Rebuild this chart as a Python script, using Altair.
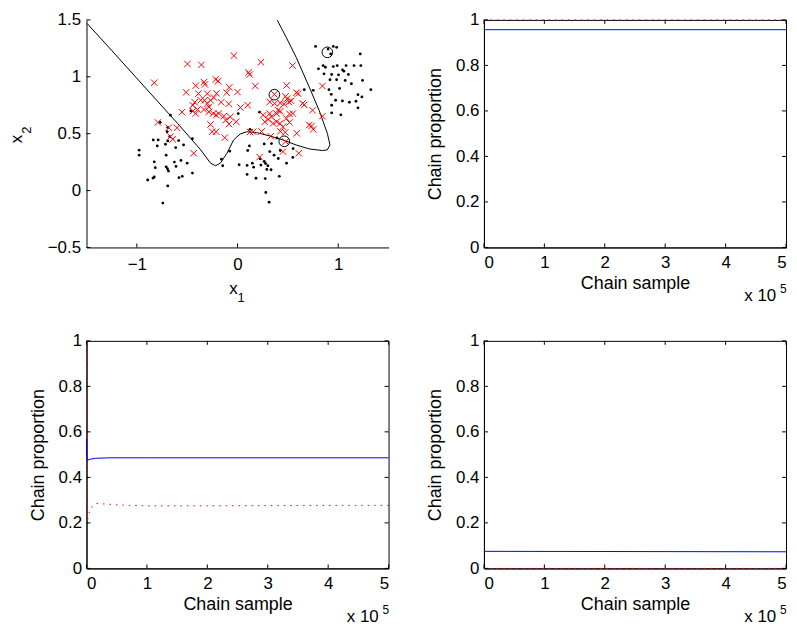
import altair as alt
import pandas as pd

# ---------------- top-left: data space (x1, x2) ----------------
black_x = [-0.667, -0.768, -0.693, -0.699, -0.673, -0.837, -0.788, -0.797, -0.716, -0.693,
           -0.585, -0.536, -0.448, -0.614, -0.977, -0.977, -0.709, -0.827, -0.817, -0.627,
           -0.562, -0.500, -0.709, -0.696, -0.686, -0.611, -0.448, -0.892, -0.840, -0.827,
           -0.582, -0.549, -0.693, -0.742, -0.160, -0.147, -0.464, -0.078,
           0.007, 0.219, 0.124, 0.118, 0.101, 0.147, 0.225, 0.016, 0.095, 0.095,
           0.160, 0.183, 0.265, 0.337, 0.320, 0.265, 0.278, 0.301, 0.291, 0.333,
           0.275, 0.281, 0.314, 0.363, 0.405, 0.415, 0.425, 0.487, 0.552, 0.549,
           0.392, 0.232,
           0.775, 0.984, 0.951, 0.899, 0.925, 1.219, 0.850, 0.804, 0.873, 0.951,
           0.990, 1.042, 1.078, 1.157, 1.225, 0.859, 0.935, 1.003, 1.056, 1.101,
           1.131, 1.069, 1.242, 0.918, 0.984, 0.663, 0.752, 0.908, 0.931, 1.013,
           1.324, 1.235, 1.196, 0.974, 1.042, 1.111, 1.176, 1.196, 0.935, 0.935,
           1.026]
black_y = [0.663, 0.599, 0.555, 0.517, 0.474, 0.445, 0.445, 0.392, 0.407, 0.436,
           0.439, 0.401, 0.456, 0.378, 0.355, 0.311, 0.311, 0.253, 0.201, 0.250,
           0.265, 0.241, 0.209, 0.192, 0.172, 0.212, 0.154, 0.093, 0.110, 0.119,
           0.113, 0.125, 0.041, -0.110, 0.276, 0.218, 0.701, 0.346,
           0.677, 0.689, 0.538, 0.392, 0.352, 0.241, 0.279, 0.227, 0.221, 0.142,
           0.206, 0.108, 0.410, 0.413, 0.343, 0.256, 0.238, 0.218, 0.186, 0.183,
           0.105, -0.017, -0.102, 0.311, 0.282, 0.125, 0.352, 0.241, 0.369, 0.291,
           0.462, 0.224,
           1.267, 1.259, 1.267, 1.244, 1.201, 1.201, 1.099, 1.070, 1.084, 1.090,
           1.099, 1.061, 1.099, 1.099, 1.099, 1.026, 1.020, 1.017, 1.049, 1.020,
           0.939, 0.968, 0.968, 0.974, 0.974, 0.887, 0.881, 0.887, 0.846, 0.898,
           0.887, 0.823, 0.843, 0.794, 0.788, 0.776, 0.785, 0.727, 0.750, 0.683,
           0.666]

red_x = [-0.036, -0.497, -0.359, 0.232, 0.546, 0.111, 0.121, -0.827, -0.216, -0.193,
         -0.333, -0.324, -0.415, -0.082, 0.000, 0.176, 0.487, -0.510, -0.389, -0.301,
         -0.209, -0.108, 0.366, 0.477, 0.493, 0.585, 0.601, 0.843, -0.444, -0.425,
         -0.327, -0.301, -0.268, -0.235, -0.163, -0.088, 0.029, 0.101, 0.320, 0.425,
         0.461, 0.510, 0.533, 0.647, 0.663, -0.552, -0.444, -0.399, -0.333, -0.284,
         -0.242, -0.212, -0.186, -0.137, -0.118, -0.085, -0.013, -0.791, -0.683, -0.601,
         -0.667, -0.644, -0.268, -0.252, -0.212, -0.127, 0.124, 0.157, 0.239, 0.330,
         0.425, 0.474, 0.588, 0.320, 0.337, 0.386, 0.425, 0.516, 0.389, 0.516,
         0.271, 0.304, 0.422, 0.451, 0.712, 0.735, 0.752, 0.745, 0.843, -0.435,
         0.219, 0.451, 0.477, 0.608, -0.366, -0.284, -0.415, -0.072, 0.369, 0.255,
         0.353, 0.549, 0.402, 0.484]
red_y = [1.186, 1.113, 1.105, 1.128, 1.099, 1.038, 1.020, 0.948, 0.977, 0.962,
         0.953, 0.933, 0.922, 0.907, 0.866, 0.919, 0.924, 0.863, 0.852, 0.852,
         0.855, 0.860, 0.846, 0.828, 0.808, 0.860, 0.852, 0.919, 0.750, 0.776,
         0.794, 0.765, 0.794, 0.817, 0.776, 0.762, 0.730, 0.750, 0.779, 0.770,
         0.759, 0.779, 0.788, 0.767, 0.753, 0.689, 0.698, 0.712, 0.712, 0.692,
         0.677, 0.663, 0.677, 0.654, 0.619, 0.584, 0.605, 0.599, 0.552, 0.552,
         0.474, 0.451, 0.581, 0.517, 0.517, 0.465, 0.515, 0.517, 0.520, 0.477,
         0.520, 0.512, 0.503, 0.677, 0.648, 0.677, 0.698, 0.674, 0.605, 0.599,
         0.605, 0.625, 0.590, 0.561, 0.576, 0.567, 0.538, 0.706, 0.654, 0.328,
         0.294, 0.343, 0.430, 0.328, 0.794, 0.735, 0.677, 0.648, 0.765, 0.663,
         0.590, 0.677, 0.706, 0.634]

circ_x = [0.366, 0.464, 0.892]
circ_y = [0.843, 0.433, 1.215]

bnd_x = [-1.493, -1.248, -0.922, -0.595, -0.366, -0.268, -0.219, -0.170, -0.105, -0.039,
         0.026, 0.092, 0.190, 0.320, 0.451, 0.582, 0.712, 0.843, 0.892, 0.918,
         0.892, 0.810, 0.712, 0.582, 0.484, 0.395]
bnd_y = [1.468, 1.230, 0.910, 0.590, 0.358, 0.241, 0.218, 0.241, 0.328, 0.445,
         0.497, 0.517, 0.509, 0.480, 0.445, 0.401, 0.366, 0.352, 0.358, 0.401,
         0.503, 0.706, 0.910, 1.172, 1.346, 1.497]

x1_ticks = [-1, 0, 1]
x2_ticks = [-0.5, 0, 0.5, 1, 1.5]

# ---------------- chain panels ----------------
samp_ticks = [0, 100000, 200000, 300000, 400000, 500000]
prop_ticks = [0, 0.2, 0.4, 0.6, 0.8, 1.0]

tr_blue_x = [0, 2000, 500000]
tr_blue_y = [0.965, 0.957, 0.957]
tr_red_x = [0, 500000]
tr_red_y = [1.0, 1.0]

bl_blue_x = [0, 300, 1500, 6000, 15000, 40000, 100000, 500000]
bl_blue_y = [0.57, 0.49, 0.475, 0.480, 0.484, 0.486, 0.486, 0.486]
bl_red_x = [0, 200, 1500, 5000, 10000, 16000, 30000, 60000, 100000, 200000, 300000, 400000, 500000]
bl_red_y = [1.0, 0.30, 0.21, 0.25, 0.275, 0.285, 0.283, 0.278, 0.275, 0.275, 0.276, 0.277, 0.277]

br_blue_x = [0, 500000]
br_blue_y = [0.075, 0.073]
br_red_x = [0, 500000]
br_red_y = [0.0, 0.0]

W, H = 304, 229
FONT = "Liberation Sans"
TL = 4  # tick length
LAB = 17
TIT = 18

# ---------------- build top-left ----------------
xs = alt.Scale(domain=[-1.5, 1.5], nice=False, zero=False)
ys = alt.Scale(domain=[-0.5, 1.5], nice=False, zero=False)
ax_x = alt.Axis(values=x1_ticks, title=None, format="~g", labelPadding=9)
ax_y = alt.Axis(values=x2_ticks, title=None, format="~g", labelPadding=6)
X = lambda: alt.X("x:Q", scale=xs, axis=ax_x)
Y = lambda: alt.Y("y:Q", scale=ys, axis=ax_y)

df_black = pd.DataFrame({"x": black_x, "y": black_y})
df_red = pd.DataFrame({"x": red_x, "y": red_y})
df_circ = pd.DataFrame({"x": circ_x, "y": circ_y})
df_bnd = pd.DataFrame({"x": bnd_x, "y": bnd_y, "i": list(range(len(bnd_x)))})

l_black = alt.Chart(df_black).mark_circle(color="black", size=8, opacity=1).encode(x=X(), y=Y())
l_red = alt.Chart(df_red).mark_point(shape="M-1,-1L1,1M-1,1L1,-1", filled=False, color="#ff0000",
                                     size=42, strokeWidth=1, opacity=1).encode(x=X(), y=Y())
l_circ = alt.Chart(df_circ).mark_point(shape="circle", filled=False, color="black", size=115,
                                       strokeWidth=1, opacity=1).encode(x=X(), y=Y())
l_bnd = alt.Chart(df_bnd).mark_line(color="black", strokeWidth=1).encode(x=X(), y=Y(), order="i:Q")
l_xt = alt.Chart(pd.DataFrame({"x": x1_ticks})).mark_rule(color="black", strokeWidth=1).encode(
    x=X(), y=alt.value(H), y2=alt.value(H - TL))
l_yt = alt.Chart(pd.DataFrame({"y": x2_ticks})).mark_rule(color="black", strokeWidth=1).encode(
    y=Y(), x=alt.value(0), x2=alt.value(TL))
t_x1a = alt.Chart().mark_text(text="x", font=FONT, fontSize=17, align="center", baseline="alphabetic").encode(
    x=alt.value(148), y=alt.value(276))
t_x1b = alt.Chart().mark_text(text="1", font=FONT, fontSize=13, align="center", baseline="alphabetic").encode(
    x=alt.value(155.5), y=alt.value(284))
t_x2a = alt.Chart().mark_text(text="x", font=FONT, fontSize=17, align="center", baseline="alphabetic", angle=270).encode(
    x=alt.value(-65), y=alt.value(120))
t_x2b = alt.Chart().mark_text(text="2", font=FONT, fontSize=13, align="center", baseline="alphabetic", angle=270).encode(
    x=alt.value(-56), y=alt.value(111))

top_left = alt.layer(l_bnd, l_black, l_red, l_circ, l_xt, l_yt, t_x1a, t_x1b, t_x2a, t_x2b).properties(
    width=W, height=H)


# ---------------- chain panel builder ----------------
def chain(bx, by, rx, ry):
    sx = alt.Scale(domain=[0, 500000], nice=False, zero=False)
    sy = alt.Scale(domain=[0, 1], nice=False, zero=False)
    axx = alt.Axis(values=samp_ticks, title="Chain sample", labelExpr="format(datum.value / 100000, 'd')",
                   labelPadding=7, titlePadding=4)
    axy = alt.Axis(values=prop_ticks, title="Chain proportion", format="~g", labelPadding=5, titlePadding=11)
    CX = lambda: alt.X("x:Q", scale=sx, axis=axx)
    CY = lambda: alt.Y("y:Q", scale=sy, axis=axy)
    blue = alt.Chart(pd.DataFrame({"x": bx, "y": by, "i": list(range(len(bx)))})).mark_line(
        color="#0000ff", strokeWidth=1).encode(x=CX(), y=CY(), order="i:Q")
    red = alt.Chart(pd.DataFrame({"x": rx, "y": ry, "i": list(range(len(rx)))})).mark_line(
        color="#ff0000", strokeWidth=1, strokeDash=[1.5, 5]).encode(x=CX(), y=CY(), order="i:Q")
    xt_b = alt.Chart(pd.DataFrame({"x": samp_ticks})).mark_rule(color="black").encode(
        x=CX(), y=alt.value(H), y2=alt.value(H - TL))
    xt_t = alt.Chart(pd.DataFrame({"x": samp_ticks})).mark_rule(color="black").encode(
        x=CX(), y=alt.value(0), y2=alt.value(TL))
    yt_l = alt.Chart(pd.DataFrame({"y": prop_ticks})).mark_rule(color="black").encode(
        y=CY(), x=alt.value(0), x2=alt.value(TL))
    yt_r = alt.Chart(pd.DataFrame({"y": prop_ticks})).mark_rule(color="black").encode(
        y=CY(), x=alt.value(W - TL), x2=alt.value(W))
    t_a = alt.Chart().mark_text(text="x 10", font=FONT, fontSize=17, align="left", baseline="alphabetic").encode(
        x=alt.value(262), y=alt.value(283))
    t_b = alt.Chart().mark_text(text="5", font=FONT, fontSize=12, align="left", baseline="alphabetic").encode(
        x=alt.value(298), y=alt.value(275))
    return alt.layer(red, blue, xt_b, xt_t, yt_l, yt_r, t_a, t_b).properties(
        width=W, height=H, view=alt.ViewBackground(stroke="black", strokeWidth=1))


top_right = chain(tr_blue_x, tr_blue_y, tr_red_x, tr_red_y)
bot_left = chain(bl_blue_x, bl_blue_y, bl_red_x, bl_red_y)
bot_right = chain(br_blue_x, br_blue_y, br_red_x, br_red_y)

chart = alt.concat(top_left, top_right, bot_left, bot_right, columns=2,
                   spacing={"row": 94, "column": 96}, bounds="flush").properties(
    padding={"left": 0, "top": 0, "right": 0, "bottom": 0}
).configure_view(stroke=None).configure_axis(
    labelFont=FONT, labelFontSize=LAB, labelColor="black",
    titleFont=FONT, titleFontSize=TIT, titleFontWeight="normal", titleColor="black",
    domainColor="black", domainWidth=1, ticks=False, tickSize=0, grid=False
)

chart.save("out.html", embed_options={"renderer": "svg", "actions": False})
